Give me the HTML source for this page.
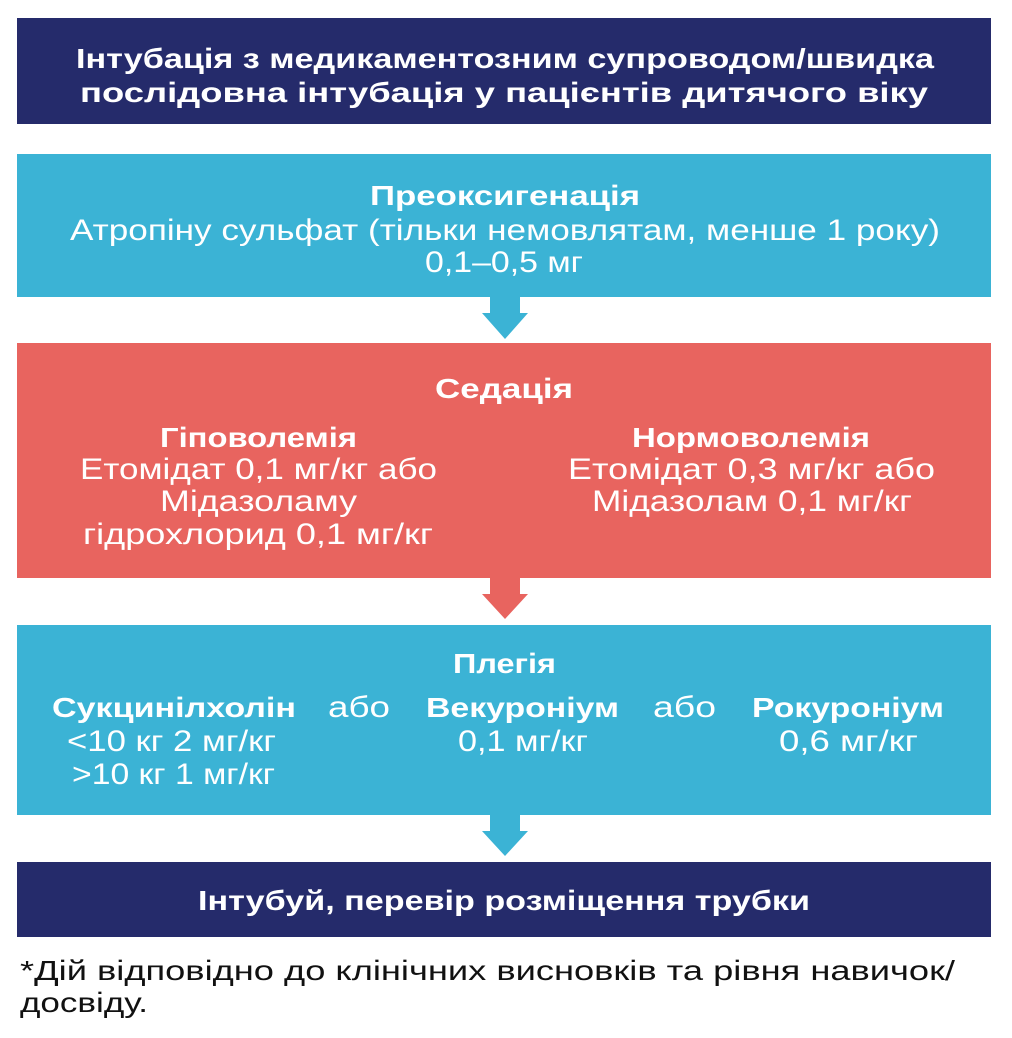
<!DOCTYPE html>
<html><head><meta charset="utf-8"><style>
html,body{margin:0;padding:0;background:#fff;}
svg{display:block;}
text{font-family:"Liberation Sans",sans-serif;fill:#fff;}
.b{font-weight:bold;font-size:28px;}
.r{font-size:30px;}
.k{fill:#111;font-size:28px;}
</style></head><body>
<svg width="1012" height="1038" viewBox="0 0 1012 1038" xmlns="http://www.w3.org/2000/svg">
<rect x="17" y="18" width="974" height="106" fill="#252b6b"/>
<rect x="17" y="154" width="974" height="143" fill="#3bb3d5"/>
<polygon points="490,296 520,296 520,313 528,313 505,339 482,313 490,313" fill="#3bb3d5"/>
<rect x="17" y="343" width="974" height="235" fill="#e8645f"/>
<polygon points="490,577 520,577 520,594 528,594 505,619 482,594 490,594" fill="#e8645f"/>
<rect x="17" y="625" width="974" height="190" fill="#3bb3d5"/>
<polygon points="490,814 520,814 520,831 528,831 505,856 482,831 490,831" fill="#3bb3d5"/>
<rect x="17" y="862" width="974" height="75" fill="#252b6b"/>

<text class="b" x="76" y="68" textLength="858" lengthAdjust="spacingAndGlyphs">Інтубація з медикаментозним супроводом/швидка</text>
<text class="b" x="80" y="102" textLength="848" lengthAdjust="spacingAndGlyphs">послідовна інтубація у пацієнтів дитячого віку</text>

<text class="b" x="370" y="205" textLength="270" lengthAdjust="spacingAndGlyphs">Преоксигенація</text>
<text class="r" x="70" y="240" textLength="870" lengthAdjust="spacingAndGlyphs">Атропіну сульфат (тільки немовлятам, менше 1 року)</text>
<text class="r" x="425" y="272" textLength="158" lengthAdjust="spacingAndGlyphs">0,1–0,5 мг</text>

<text class="b" x="435" y="398" textLength="138" lengthAdjust="spacingAndGlyphs">Седація</text>
<text class="b" x="160" y="447" textLength="197" lengthAdjust="spacingAndGlyphs">Гіповолемія</text>
<text class="r" x="80" y="479" textLength="357" lengthAdjust="spacingAndGlyphs">Етомідат 0,1 мг/кг або</text>
<text class="r" x="160" y="511" textLength="197" lengthAdjust="spacingAndGlyphs">Мідазоламу</text>
<text class="r" x="83" y="544" textLength="350" lengthAdjust="spacingAndGlyphs">гідрохлорид 0,1 мг/кг</text>
<text class="b" x="632" y="447" textLength="238" lengthAdjust="spacingAndGlyphs">Нормоволемія</text>
<text class="r" x="568" y="479" textLength="367" lengthAdjust="spacingAndGlyphs">Етомідат 0,3 мг/кг або</text>
<text class="r" x="592" y="511" textLength="320" lengthAdjust="spacingAndGlyphs">Мідазолам 0,1 мг/кг</text>

<text class="b" x="453" y="673" textLength="103" lengthAdjust="spacingAndGlyphs">Плегія</text>
<text class="b" x="52" y="717" textLength="244" lengthAdjust="spacingAndGlyphs">Сукцинілхолін</text>
<text class="r" x="328" y="717" textLength="62" lengthAdjust="spacingAndGlyphs">або</text>
<text class="b" x="426" y="717" textLength="193" lengthAdjust="spacingAndGlyphs">Векуроніум</text>
<text class="r" x="653" y="717" textLength="63" lengthAdjust="spacingAndGlyphs">або</text>
<text class="b" x="752" y="717" textLength="192" lengthAdjust="spacingAndGlyphs">Рокуроніум</text>
<text class="r" x="67" y="751" textLength="209" lengthAdjust="spacingAndGlyphs">&lt;10 кг 2 мг/кг</text>
<text class="r" x="458" y="751" textLength="130" lengthAdjust="spacingAndGlyphs">0,1 мг/кг</text>
<text class="r" x="779" y="751" textLength="139" lengthAdjust="spacingAndGlyphs">0,6 мг/кг</text>
<text class="r" x="72" y="784" textLength="203" lengthAdjust="spacingAndGlyphs">&gt;10 кг 1 мг/кг</text>

<text class="b" x="198" y="910" textLength="612" lengthAdjust="spacingAndGlyphs">Інтубуй, перевір розміщення трубки</text>

<text class="k" x="20" y="980" textLength="935" lengthAdjust="spacingAndGlyphs">*Дій відповідно до клінічних висновків та рівня навичок/</text>
<text class="k" x="20" y="1012" textLength="128" lengthAdjust="spacingAndGlyphs">досвіду.</text>
</svg>
</body></html>
